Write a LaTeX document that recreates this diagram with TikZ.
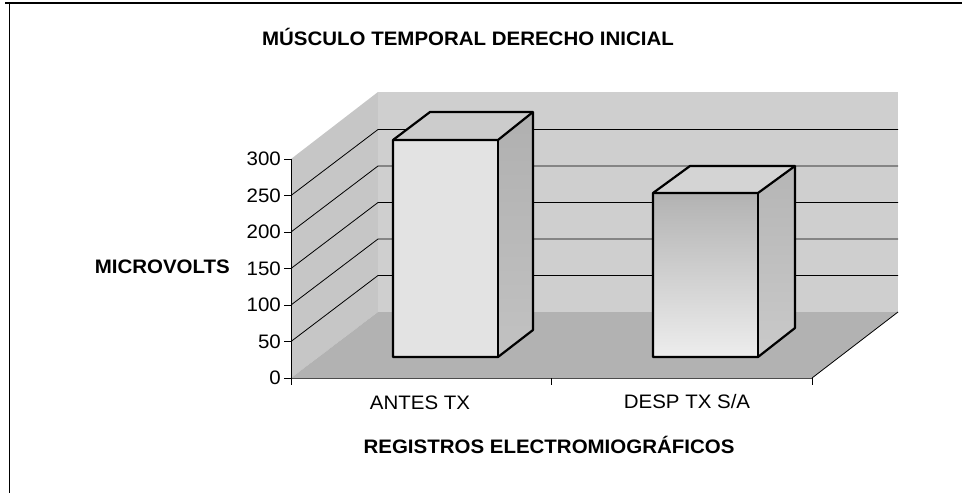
\documentclass[tikz,border=0pt]{standalone}
\usepackage{fontspec}
\setmainfont{Liberation Sans}
\newcommand{\sx}[1]{\scalebox{1.05}[1]{#1}}
\begin{document}
\begin{tikzpicture}[x=1pt,y=-1pt,
  lbl/.style={inner sep=0pt,font=\fontsize{19.5}{22}\selectfont},
  blbl/.style={inner sep=0pt,font=\fontsize{19.5}{22}\selectfont\bfseries},
  grid/.style={black,line width=0.8pt},
  barline/.style={black,line width=2.2pt,line join=round},
  tick/.style={black,line width=0.9pt}]
\useasboundingbox (0,0) rectangle (962,493);
\fill[white] (0,0) rectangle (962,493);
% frame
\draw[line width=1.3pt] (5,3) -- (962,3);
\draw[line width=1.3pt] (9.5,3) -- (9.5,493);
% walls
\coordinate (fl) at (291,378);
\coordinate (fr) at (812,378);
\coordinate (bl) at (378,312);
\coordinate (br) at (898,312);
\coordinate (tl) at (291,159);
\coordinate (btl) at (378,92);
\coordinate (btr) at (898,92);
\fill[gray!45] (fl) -- (tl) -- (btl) -- (bl) -- cycle;
\fill[gray!38] (bl) -- (btl) -- (btr) -- (br) -- cycle;
\fill[gray!60] (fl) -- (bl) -- (br) -- (fr) -- cycle;
% gridlines
\foreach \v in {50,100,150,200,250}{
  \draw[grid] (291,{378-0.73*\v}) -- (378,{312-0.73*\v}) -- (898,{312-0.73*\v});
}
\draw[black,line width=0.8pt] (fr) -- (br);
\draw[black!70,line width=0.6pt] (fl) -- (fr);
% axes
\draw[tick] (291,159) -- (291,381);
\foreach \v in {0,50,100,150,200,250,300}{
  \draw[tick] (284,{378-0.73*\v}) -- (291,{378-0.73*\v});
}
\foreach \x in {291,551,812}{
  \draw[tick] (\x,378) -- (\x,385);
}
% bar 1
\fill[gray!22] (393,140) rectangle (498,357);
\fill[gray!40] (393,140) -- (430,112) -- (533,112) -- (498,140) -- cycle;
\shade[top color=gray!62,bottom color=gray!48] (498,140) -- (533,112) -- (533,330) -- (498,357) -- cycle;
\draw[barline] (393,357) -- (393,140) -- (430,112) -- (533,112) -- (533,330) -- (498,357) -- cycle;
\draw[barline] (393,140) -- (498,140) -- (533,112);
\draw[barline] (498,140) -- (498,357);
% bar 2
\shade[top color=gray!60,bottom color=gray!14] (653,193) rectangle (758,357);
\fill[gray!34] (653,193) -- (690,166) -- (795,166) -- (758,193) -- cycle;
\shade[top color=gray!58,bottom color=gray!42] (758,193) -- (795,166) -- (795,328) -- (758,357) -- cycle;
\draw[barline] (653,357) -- (653,193) -- (690,166) -- (795,166) -- (795,328) -- (758,357) -- cycle;
\draw[barline] (653,193) -- (758,193) -- (795,166);
\draw[barline] (758,193) -- (758,357);
% tick labels
\foreach \v in {0,50,100,150,200,250,300}{
  \node[lbl,anchor=east] (t\v) at (281,{378-0.73*\v}) {\sx{\v}};
}
% texts
\node[blbl,anchor=base] (title) at (468,45) {\sx{MÚSCULO TEMPORAL DERECHO INICIAL}};
\node[blbl,anchor=east] (ylab) at (230,267) {\sx{MICROVOLTS}};
\node[lbl] (c1) at (420,403) {\sx{ANTES TX}};
\node[lbl] (c2) at (687,402) {\sx{DESP TX S/A}};
\node[blbl,anchor=base] (xlab) at (549,453) {\sx{REGISTROS ELECTROMIOGRÁFICOS}};
\end{tikzpicture}
\end{document}
